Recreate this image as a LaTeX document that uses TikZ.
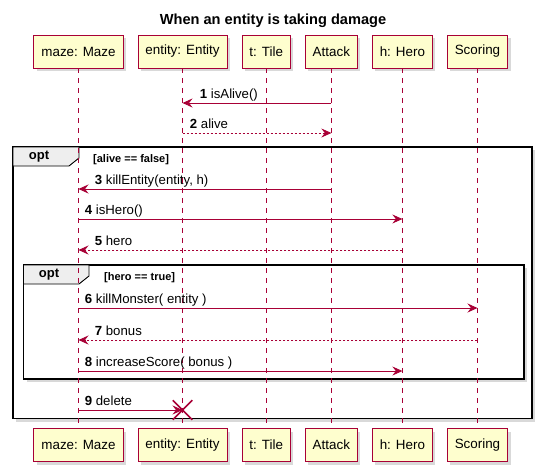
\documentclass[tikz,border=0pt]{standalone}
\usepackage{fontspec}
\setmainfont{Liberation Sans}
\usetikzlibrary{arrows.meta,positioning,shadows,shapes.misc}
\definecolor{umlred}{HTML}{A80036}
\definecolor{umlfill}{HTML}{FEFECE}
\definecolor{tabgray}{HTML}{EEEEEE}

\begin{document}
\begin{tikzpicture}[x=1pt,y=-1pt]

      \tikzstyle{actor}=[rectangle,draw=umlred,fill=umlfill,line width=0.8pt,
        minimum height=33pt,inner xsep=7.5pt,
        font=\fontsize{13.4}{16}\selectfont,
        drop shadow={shadow xshift=3pt,shadow yshift=-3pt,opacity=0.3}]
      \tikzstyle{life}=[umlred,line width=0.7pt,dash pattern=on 5pt off 5pt]
      \tikzstyle{msg}=[umlred,line width=0.8pt,
        -{Stealth[length=10pt,width=9pt,inset=3.5pt]}]
      \tikzstyle{reply}=[msg,dash pattern=on 2pt off 2pt]
      \tikzstyle{lbl}=[black,anchor=base west,inner sep=0pt,yshift=4.5pt,
        font=\fontsize{13.2}{15}\selectfont]
      \tikzstyle{frame}=[draw=black,line width=1.4pt,fill=white,
        drop shadow={shadow xshift=3pt,shadow yshift=-3pt,opacity=0.3}]
      \tikzstyle{tab}=[draw=black,line width=0.9pt,fill=tabgray]
      \tikzstyle{guard}=[anchor=base west,inner sep=0pt,
        font=\fontsize{11}{13}\selectfont\bfseries]

      \useasboundingbox (0,0) rectangle (540,469);

      \node(title) at (273,21)
        {\fontsize{14.6}{17}\selectfont\bfseries When an entity is taking damage};

      % outer opt
      \draw[frame] (13,147) rectangle (532,418.5);
      \draw[tab] (13,147) -- (79,147) -- (79,158) -- (69,166) -- (13,166) -- cycle;
      \node(opt1) at (39,157) {\fontsize{13}{15}\selectfont\bfseries opt};
      \node[guard](guard1) at (93,162) {[alive == false]};

      % inner opt
      \draw[frame] (23.5,265) rectangle (524,379);
      \draw[tab] (23.5,265) -- (89,265) -- (89,276) -- (79,284) -- (23.5,284) -- cycle;
      \node(opt2) at (49,275) {\fontsize{13}{15}\selectfont\bfseries opt};
      \node[guard](guard2) at (104,280) {[hero == true]};

      % participants
      \node(maze)[actor] at (78.5,51.5) {maze: Maze};
      \node(entity)[actor,right=14pt of maze] {entity: Entity};
      \node(tile)[actor,right=14pt of entity] {t: Tile};
      \node(attack)[actor,right=14pt of tile] {Attack};
      \node(hero)[actor,right=14pt of attack] {h: Hero};
      \node(scoring)[actor,right=14pt of hero] {Scoring};

      \node(maze2)[actor] at (78.5,445) {maze: Maze};
      \node(entity2)[actor,right=14pt of maze2] {entity: Entity};
      \node(tile2)[actor,right=14pt of entity2] {t: Tile};
      \node(attack2)[actor,right=14pt of tile2] {Attack};
      \node(hero2)[actor,right=14pt of attack2] {h: Hero};
      \node(scoring2)[actor,right=14pt of hero2] {Scoring};

      \foreach \p in {maze,entity,tile,attack,hero,scoring}
        \draw[life] (\p.south) -- (\p2.north);

      % messages
      \draw[msg] (attack |- 0,103) -- (entity |- 0,103)
        node[lbl,at end,xshift=17pt] {\textbf{1} isAlive()};
      \draw[reply] (entity |- 0,133) -- (attack |- 0,133)
        node[lbl,at start,xshift=7pt] {\textbf{2} alive};
      \draw[msg] (attack |- 0,189) -- (maze |- 0,189)
        node[lbl,at end,xshift=16pt] {\textbf{3} killEntity(entity, h)};
      \draw[msg] (maze |- 0,219) -- (hero |- 0,219)
        node[lbl,at start,xshift=6pt] {\textbf{4} isHero()};
      \draw[reply] (hero |- 0,250) -- (maze |- 0,250)
        node[lbl,at end,xshift=16pt] {\textbf{5} hero};
      \draw[msg] (maze |- 0,308) -- (scoring |- 0,308)
        node[lbl,at start,xshift=6pt] {\textbf{6} killMonster( entity )};
      \draw[reply] (scoring |- 0,340) -- (maze |- 0,340)
        node[lbl,at end,xshift=16pt] {\textbf{7} bonus};
      \draw[msg] (maze |- 0,371) -- (hero |- 0,371)
        node[lbl,at start,xshift=6pt] {\textbf{8} increaseScore( bonus )};

      \node(kill)[cross out,draw=umlred,line width=1.5pt,minimum size=18pt,
        inner sep=0pt] at (entity |- 0,410) {};
      \draw[msg] (maze |- 0,410) -- (kill.center)
        node[lbl,at start,xshift=6pt] {\textbf{9} delete};

    \end{tikzpicture}
\end{document}
